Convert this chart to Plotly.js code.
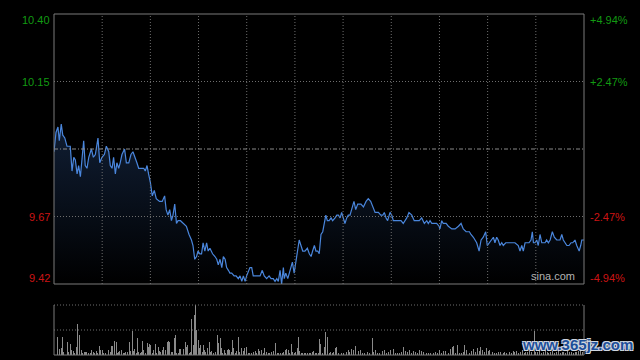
<!DOCTYPE html>
<html>
<head>
<meta charset="utf-8">
<script src="https://cdn.plot.ly/plotly-3.0.1.min.js"></script>
<style>
html,body{margin:0;padding:0;background:#000;}
#chart{width:640px;height:360px;}
</style>
</head>
<body>
<div id="chart"></div>
<script>
// ---- data ----
const preClose = 9.91;
const pctTicks = [4.94, 2.47, -2.47, -4.94];
const priceLabels = ['10.40', '10.15', '9.67', '9.42'];
const pctLabels = ['+4.94%', '+2.47%', '-2.47%', '-4.94%'];
const totalMinutes = 241;

const priceTime = [0,0.9,1.8,2.4,3.3,4.0,4.9,5.9,7.4,8.2,9.0,9.7,10.5,11.2,12.0,12.7,13.5,14.2,15.0,15.8,17.0,17.9,18.8,20.0,20.8,21.8,22.9,23.8,24.9,25.6,26.4,27.1,27.9,28.6,29.4,30.1,30.9,32.1,32.9,34.0,35.0,35.9,37.0,37.7,38.5,40.8,41.5,42.3,43.0,43.8,44.7,45.6,46.5,48.0,49.2,50.3,51.0,51.8,52.6,53.4,54.1,54.9,55.7,56.4,57.5,58.7,60.2,61.4,62.5,63.2,64.0,64.8,65.5,66.3,67.1,67.8,68.6,69.4,70.1,70.9,72.1,73.2,74.0,74.7,75.5,76.3,77.0,77.8,78.5,79.3,80.0,80.8,81.9,82.8,83.8,84.6,85.4,86.1,86.9,87.6,88.4,89.1,89.9,90.6,91.4,92.9,93.7,94.7,95.6,96.7,97.8,98.7,99.7,100.5,101.3,102.0,102.8,103.5,104.3,104.7,105.4,106.3,107.0,107.8,108.4,109.2,109.9,110.6,111.5,112.3,113.1,114.1,115.2,116.1,116.9,117.6,118.4,119.1,119.9,120.6,121.4,122.2,122.9,123.6,124.3,125.1,126.0,126.7,127.8,128.6,129.3,130.1,130.8,131.6,132.3,133.1,133.8,134.6,135.4,136.4,137.2,138.1,139.6,140.7,141.9,142.9,144.0,144.9,146.0,147.5,148.6,149.5,150.2,151.0,151.7,152.8,153.6,154.3,155.8,156.9,157.8,158.8,160.4,161.4,162.7,163.8,164.9,166.1,167.2,168.4,169.5,170.2,171.0,171.8,172.8,174.0,175.1,175.5,176.3,177.0,178.3,179.3,180.9,182.4,183.9,185.1,186.1,187.4,188.9,189.6,190.7,191.4,192.2,193.3,194.2,195.2,196.3,197.0,197.8,198.7,199.8,200.5,201.3,202.0,202.8,203.6,204.3,205.4,207.4,209.6,211.1,211.9,212.7,213.4,214.2,215.0,216.0,216.9,217.5,218.0,218.7,219.5,220.2,221.0,221.8,222.5,223.3,224.0,224.8,225.6,226.6,227.5,228.6,230.1,230.9,231.6,232.4,233.2,234.2,235.1,235.9,236.9,237.7,238.8,239.5,240.0,241.0];

const priceValue = [9.90,9.97,9.99,9.94,10.00,9.96,9.95,9.92,9.92,9.83,9.88,9.87,9.82,9.85,9.81,9.86,9.94,9.85,9.84,9.88,9.91,9.88,9.89,9.95,9.86,9.88,9.89,9.92,9.90,9.85,9.84,9.88,9.82,9.86,9.84,9.86,9.89,9.91,9.86,9.86,9.89,9.90,9.87,9.86,9.84,9.84,9.83,9.85,9.82,9.79,9.74,9.76,9.73,9.72,9.72,9.74,9.69,9.67,9.69,9.65,9.67,9.71,9.64,9.65,9.65,9.64,9.63,9.60,9.58,9.56,9.51,9.52,9.54,9.53,9.53,9.57,9.54,9.57,9.54,9.55,9.53,9.52,9.51,9.49,9.51,9.48,9.52,9.51,9.48,9.47,9.46,9.46,9.45,9.45,9.44,9.45,9.43,9.45,9.43,9.45,9.47,9.48,9.48,9.45,9.45,9.45,9.45,9.47,9.45,9.44,9.45,9.44,9.44,9.43,9.44,9.43,9.47,9.42,9.48,9.44,9.46,9.44,9.46,9.49,9.50,9.46,9.50,9.54,9.58,9.56,9.54,9.54,9.55,9.53,9.52,9.54,9.56,9.54,9.54,9.53,9.60,9.61,9.64,9.67,9.65,9.65,9.66,9.65,9.66,9.67,9.67,9.66,9.68,9.66,9.64,9.66,9.67,9.67,9.69,9.72,9.69,9.71,9.71,9.70,9.72,9.73,9.72,9.70,9.68,9.68,9.67,9.67,9.68,9.66,9.65,9.68,9.67,9.65,9.65,9.65,9.65,9.64,9.66,9.68,9.67,9.65,9.65,9.65,9.66,9.64,9.65,9.64,9.65,9.64,9.64,9.64,9.63,9.62,9.65,9.64,9.64,9.63,9.62,9.62,9.63,9.64,9.62,9.61,9.61,9.60,9.59,9.58,9.57,9.54,9.58,9.59,9.61,9.56,9.57,9.58,9.59,9.57,9.59,9.58,9.56,9.57,9.56,9.57,9.57,9.57,9.56,9.54,9.56,9.54,9.57,9.57,9.57,9.58,9.61,9.57,9.57,9.58,9.56,9.60,9.57,9.57,9.57,9.58,9.57,9.58,9.61,9.59,9.58,9.58,9.60,9.58,9.57,9.56,9.56,9.57,9.57,9.58,9.56,9.54,9.56,9.58,9.58];

const volTime = [1.5,2.3,2.7,3.2,3.8,4.2,5.0,6.1,6.7,7.4,8.0,8.8,9.4,10.2,10.9,11.5,12.3,13.0,13.8,14.4,15.0,15.9,16.7,17.1,17.9,18.5,19.1,19.7,20.6,21.2,22.0,22.4,23.3,24.1,24.7,25.5,26.1,26.8,27.7,28.3,28.8,29.4,30.0,30.6,31.5,32.1,32.7,33.5,34.2,35.0,35.6,36.2,36.8,37.3,38.0,38.6,39.2,39.8,40.3,40.9,41.7,42.4,43.0,43.6,44.1,44.7,45.3,46.1,46.7,47.4,48.0,48.6,49.4,50.0,50.8,51.4,52.0,52.6,53.3,53.9,54.7,55.1,55.8,56.4,57.0,57.6,58.2,58.8,59.7,60.3,60.9,61.5,62.1,62.7,63.3,63.8,64.2,64.8,65.5,66.1,66.7,67.3,67.9,68.5,69.1,69.9,70.5,71.2,71.8,72.4,73.5,74.2,74.8,75.5,76.2,76.8,77.4,78.2,78.8,79.4,80.0,80.6,81.2,81.8,82.4,83.0,83.8,84.5,85.3,86.1,86.8,87.6,88.3,89.1,89.8,90.6,91.4,92.1,92.9,93.6,94.4,95.2,95.9,96.7,97.4,98.2,98.9,99.7,100.5,100.9,101.5,102.3,103.0,103.8,104.5,105.1,105.8,106.5,107.3,107.9,108.5,109.2,110.0,110.6,111.1,111.7,112.4,113.0,113.8,114.5,115.3,116.1,116.8,117.6,118.2,118.8,119.4,120.2,120.9,121.4,122.1,122.9,123.6,124.5,125.2,125.8,126.5,127.3,127.9,128.5,129.2,130.8,131.8,133.0,133.8,134.5,135.3,136.4,137.3,138.3,139.4,140.3,141.4,142.4,143.6,144.7,145.5,146.4,147.1,148.2,149.2,150.2,151.2,152.1,153.2,154.2,155.3,156.2,157.3,158.0,159.1,160.0,160.8,161.8,162.6,163.3,164.2,165.2,166.1,167.1,168.2,169.4,170.4,171.2,172.4,173.3,174.2,175.1,176.2,177.3,178.2,179.2,180.3,181.1,181.8,182.6,183.3,184.2,185.3,186.1,186.8,187.6,188.8,189.9,190.6,191.5,192.4,193.3,194.1,194.8,195.9,196.7,197.4,198.2,199.2,200.1,201.2,202.1,203.0,204.2,205.0,205.8,207.0,208.0,208.8,209.6,210.5,211.3,212.1,213.0,213.8,214.6,215.5,216.3,217.2,218.3,219.1,220.0,220.8,221.7,222.5,223.4,224.2,225.0,225.9,226.8,227.6,228.5,229.3,230.2,231.0,231.9,232.7,233.6,234.4,235.3,236.1,237.0,237.8,238.7,239.5,240.4,241.0];

const volValue = [55,15,17,20,55,10,5,40,10,33,15,12,5,25,95,60,15,5,10,8,10,7,5,15,10,7,13,7,27,15,15,5,7,10,15,8,27,27,42,40,7,10,13,15,7,5,8,10,40,12,73,12,18,7,50,10,5,10,42,15,7,37,25,32,30,7,15,32,7,25,13,10,15,24,15,40,42,40,8,10,50,60,5,7,17,17,10,17,38,25,30,7,10,110,30,120,151,77,45,20,30,10,30,15,10,20,40,10,13,5,10,60,35,50,20,5,15,7,15,18,15,10,45,20,7,13,55,10,20,12,22,25,7,5,7,10,12,5,17,12,15,7,20,10,7,5,10,12,15,37,7,5,7,5,10,15,17,15,7,33,10,5,10,20,55,13,7,5,7,5,5,7,5,10,12,7,5,5,47,33,7,23,70,55,7,10,5,10,20,23,7,5,7,10,15,10,17,15,27,13,15,5,7,10,7,50,10,15,7,5,13,15,7,10,15,17,5,5,7,10,23,13,10,15,7,13,10,5,15,13,10,5,7,7,7,10,5,15,7,13,13,7,17,25,27,7,30,7,5,10,30,15,7,13,17,10,20,13,23,15,10,20,13,15,10,7,5,10,10,7,10,5,10,7,13,8,12,6,10,15,7,10,8,12,9,73,10,8,12,6,10,14,8,6,10,12,7,9,11,6,8,10,7,12,8,9,6,10,8,12,15,10,20];

// ---- derived scales ----
const yLo = preClose * (1 - pctTicks[0] / 100);
const yHi = preClose * (1 + pctTicks[0] / 100);
const tickY = pctTicks.map(p => preClose * (1 + p / 100));
const green = '#129a12', red = '#cc1414';
const labelColor = pctTicks.map(p => p > 0 ? green : red);

const traces = [
  {
    x: priceTime, y: priceValue, type: 'scatter', mode: 'lines',
    line: {color: '#4a86dc', width: 1.2},
    fill: 'tozeroy',
    fillgradient: {type: 'vertical', start: yLo, stop: 10.0,
      colorscale: [[0, 'rgba(0,0,0,1)'], [1, 'rgba(16,30,52,1)']]},
    xaxis: 'x', yaxis: 'y', hoverinfo: 'skip'
  },
  {
    x: volTime, y: volValue, type: 'bar', width: 0.45,
    marker: {color: '#8a8a8a', line: {width: 0}},
    xaxis: 'x2', yaxis: 'y2', hoverinfo: 'skip'
  }
];

const mainBottom = 71 / 341, volTop = 50 / 341;
const axBase = {showgrid: false, zeroline: false, showticklabels: false, showline: false, ticks: '', fixedrange: true};

const gridCol = '#6e6e6e', borderCol = '#7a7a7a';
const shapes = [];
for (let k = 1; k <= 10; k++) {
  shapes.push({type: 'line', xref: 'x domain', yref: 'y domain', x0: k / 11, x1: k / 11, y0: 0, y1: 1,
    line: {color: gridCol, width: 1, dash: '1px,2px'}});
}
[tickY[1], tickY[2]].forEach(v => shapes.push({type: 'line', xref: 'x domain', yref: 'y', x0: 0, x1: 1, y0: v, y1: v,
  line: {color: gridCol, width: 1, dash: '1px,2px'}}));
shapes.push({type: 'line', xref: 'x domain', yref: 'y', x0: 0, x1: 1, y0: preClose, y1: preClose,
  line: {color: '#8a8a8a', width: 1, dash: '4px,2px,1px,2px'}});
shapes.push({type: 'rect', xref: 'x domain', yref: 'y domain', x0: 0, x1: 1, y0: 0, y1: 1,
  line: {color: borderCol, width: 1}});
shapes.push({type: 'line', xref: 'x2 domain', yref: 'y2 domain', x0: 0, x1: 1, y0: 1, y1: 1, line: {color: gridCol, width: 1, dash: '1px,2px'}});
shapes.push({type: 'line', xref: 'x2 domain', yref: 'y2 domain', x0: 0, x1: 1, y0: 0.5, y1: 0.5, line: {color: gridCol, width: 1, dash: '1px,2px'}});
shapes.push({type: 'line', xref: 'x2 domain', yref: 'y2 domain', x0: 0, x1: 1, y0: 0, y1: 0, line: {color: borderCol, width: 1}});
shapes.push({type: 'line', xref: 'x2 domain', yref: 'y2 domain', x0: 0, x1: 0, y0: 0, y1: 1, line: {color: borderCol, width: 1}});
shapes.push({type: 'line', xref: 'x2 domain', yref: 'y2 domain', x0: 1, x1: 1, y0: 0, y1: 1, line: {color: borderCol, width: 1}});

const font = 'Liberation Sans, Arial, sans-serif';
const annotations = [];
tickY.forEach((v, i) => {
  const shift = i === 0 ? -6 : (i === tickY.length - 1 ? 6 : 0);
  annotations.push({xref: 'paper', yref: 'y', x: 0, y: v, xanchor: 'right', yanchor: 'middle', xshift: -2, yshift: shift,
    text: priceLabels[i], showarrow: false, font: {family: font, size: 11, color: labelColor[i]}});
  annotations.push({xref: 'paper', yref: 'y', x: 1, y: v, xanchor: 'left', yanchor: 'middle', xshift: 4, yshift: shift,
    text: pctLabels[i], showarrow: false, font: {family: font, size: 11, color: labelColor[i]}});
});
annotations.push({xref: 'x domain', yref: 'y domain', x: 0.9406, y: 0, xanchor: 'center', yanchor: 'bottom', yshift: 0,
  text: 'sina.com', showarrow: false, font: {family: font, size: 11, color: '#b4b4b4'}});
annotations.push({xref: 'paper', yref: 'paper', x: 1.094, y: 0.03, xanchor: 'right', yanchor: 'middle',
  text: '<b>www.365jz.com</b>', showarrow: false, borderpad: 0,
  font: {family: font, size: 15, color: '#1d4f9a',
    shadow: '1px 1px 0 #cfd6e0, -1px -1px 0 #cfd6e0, 1px -1px 0 #cfd6e0, -1px 1px 0 #cfd6e0'}});

const layout = {
  width: 640, height: 360,
  margin: {l: 54, r: 56, t: 14, b: 5},
  paper_bgcolor: '#000', plot_bgcolor: '#000',
  showlegend: false,
  bargap: 0,
  xaxis: Object.assign({}, axBase, {domain: [0, 1], range: [0, totalMinutes], anchor: 'y'}),
  yaxis: Object.assign({}, axBase, {domain: [mainBottom, 1], range: [yLo, yHi], anchor: 'x'}),
  xaxis2: Object.assign({}, axBase, {domain: [0, 1], range: [0, totalMinutes], anchor: 'y2'}),
  yaxis2: Object.assign({}, axBase, {domain: [0, volTop], range: [0, 151], anchor: 'x2'}),
  shapes: shapes,
  annotations: annotations
};

Plotly.newPlot('chart', traces, layout, {displayModeBar: false, staticPlot: true});
</script>
</body>
</html>
